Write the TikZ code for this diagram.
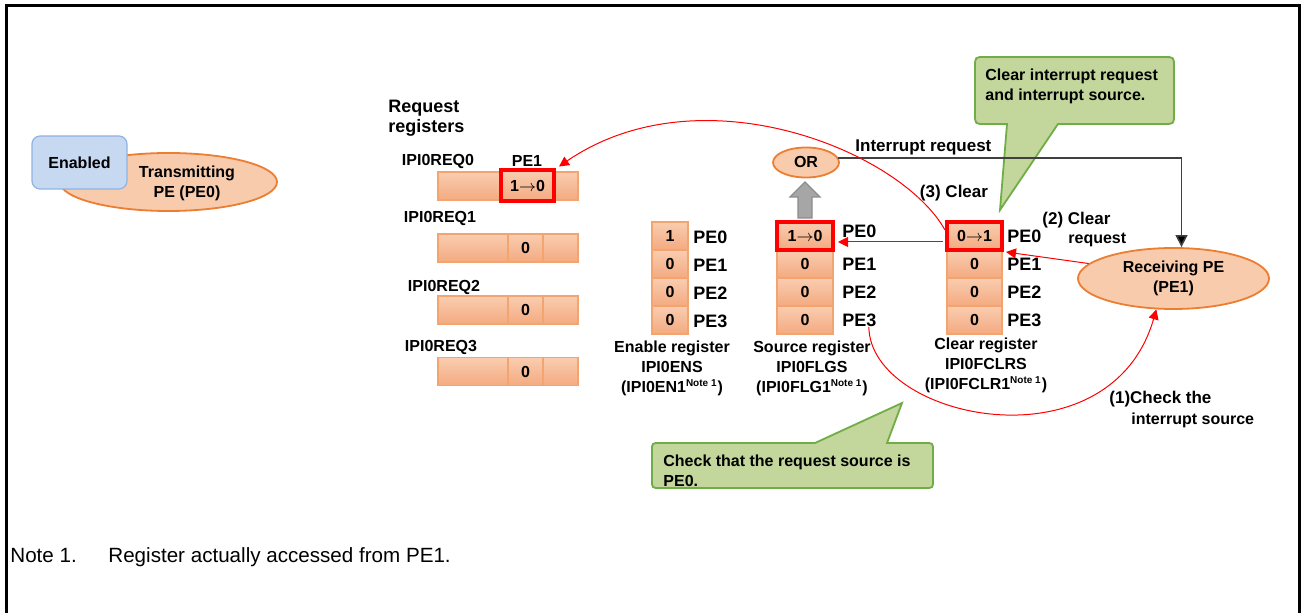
\documentclass[tikz,border=0pt]{standalone}
\usepackage{fontspec}
\setmainfont{Liberation Sans}
\usetikzlibrary{arrows.meta,shapes.geometric,calc}
\definecolor{ipiOrange}{HTML}{ED7D31}
\definecolor{ipiPeach}{HTML}{F8CBAD}
\definecolor{ipiCellTop}{HTML}{F9CDB0}
\definecolor{ipiCellBot}{HTML}{F4AA80}
\definecolor{ipiCellLine}{HTML}{F3A46F}
\definecolor{ipiBlue}{HTML}{C6D9F1}
\definecolor{ipiBlueLine}{HTML}{8EB4E3}
\definecolor{ipiGreen}{HTML}{C3D69B}
\definecolor{ipiGreenLine}{HTML}{70AD47}
\definecolor{ipiGray}{HTML}{A6A6A6}
\definecolor{ipiGrayLine}{HTML}{8C8C8C}
\definecolor{ipiDark}{HTML}{404040}
\tikzset{
  ipi label/.style={font=\bfseries\fontsize{8}{10}\selectfont, inner sep=0pt},
  ipi step/.style={font=\bfseries\fontsize{8.5}{10}\selectfont, inner sep=0pt},
  ipi head/.style={font=\bfseries\fontsize{9}{10}\selectfont, inner sep=0pt},
  ipi pelab/.style={font=\bfseries\fontsize{9}{10}\selectfont, inner sep=0pt},
  ipi note/.style={font=\fontsize{10.3}{12}\selectfont, inner sep=0pt},
  ipi cell/.style={draw=ipiCellLine, top color=ipiCellTop, bottom color=ipiCellBot, line width=0.6pt, inner sep=0pt, minimum height=14pt, ipi label},
  ipi hl/.style={draw=red, line width=2pt},
  ipi pe/.style={ellipse, draw=ipiOrange, fill=ipiPeach, line width=0.9pt, inner sep=0pt, ipi label, align=center},
  ipi flag/.style={draw=ipiBlueLine, fill=ipiBlue, rounded corners=4pt, line width=0.6pt, ipi label},
  ipi callout/.style={draw=ipiGreenLine, fill=ipiGreen, line width=0.9pt},
  ipi red/.style={draw=red, line width=0.5pt, -{Triangle[length=5pt,width=5pt]}},
  ipi irq/.style={draw=ipiDark, line width=0.8pt, -{Triangle[length=6pt,width=6pt,fill=black]}},
}
\begin{document}
\begin{tikzpicture}[x=0.5pt, y=-0.5pt]
  \useasboundingbox (0,0) rectangle (1301,613);
  % frame, open at the bottom
  \draw[line width=1.5pt] (6,613) -- (6,6) -- (1299,6) -- (1299,613);

  % transmitting PE
  \node[ipi pe, minimum width=108.5pt, minimum height=29pt] (tx) at (168.5,182) {};
  \node[ipi label, align=center] (txname) at (187,183) {Transmitting\\PE (PE0)};
  \node[ipi flag, minimum width=47.5pt, minimum height=26.5pt] (enabled) at (79.5,162.5) {Enabled};

  % request registers
  \node[ipi head, anchor=west, align=left] (reqhead) at (388,118) {Request\\registers};
  \foreach \r/\y/\ly/\lx in {0/186/161/438, 1/248/218/440, 2/310/287/444, 3/371.5/347/441} {
    \node[ipi label] (reqname\r) at (\lx,\ly) {IPI0REQ\r};
    \node[ipi cell, minimum width=35pt] (req\r-a) at (473,\y) {};
    \node[ipi cell, minimum width=17.5pt] (req\r-b) at (525.5,\y) {\ifnum\r=0 \else 0\fi};
    \node[ipi cell, minimum width=17.5pt] (req\r-c) at (560.5,\y) {};
  }
  \node[ipi cell, ipi hl, minimum width=26.5pt, minimum height=15.5pt] (req0hl) at (527.5,186) {1$\rightarrow$0};
  \node[ipi label] (reqpe) at (527,161) {PE1};

  % enable register
  \foreach \i/\v in {0/1,1/0,2/0,3/0} {
    \node[ipi cell, minimum width=18pt] (ens\i) at (670,{236+28*\i}) {\v};
    \node[ipi pelab, anchor=west] (ensl\i) at (693,{237+28*\i}) {PE\i};
  }
  \node[ipi label, align=center] (enscap) at (672,368) {Enable register\\IPI0ENS\\(IPI0EN1\textsuperscript{\fontsize{5}{5}\selectfont Note 1})};

  % source register
  \foreach \i in {1,2,3} {
    \node[ipi cell, minimum width=28pt] (flg\i) at (805,{236+28*\i}) {0};
  }
  \node[ipi cell, ipi hl, minimum width=28pt] (flg0) at (805,236) {1$\rightarrow$0};
  \foreach \i/\dy in {0/-5,1/0,2/0,3/0} {
    \node[ipi pelab, anchor=west] (flgl\i) at (842,{236+28*\i+\dy}) {PE\i};
  }
  \node[ipi label, align=center] (flgcap) at (812,368) {Source register\\IPI0FLGS\\(IPI0FLG1\textsuperscript{\fontsize{5}{5}\selectfont Note 1})};

  % clear register
  \foreach \i in {1,2,3} {
    \node[ipi cell, minimum width=27.5pt] (clr\i) at (974.5,{236+28*\i}) {0};
  }
  \node[ipi cell, ipi hl, minimum width=27.5pt] (clr0) at (974.5,236) {0$\rightarrow$1};
  \foreach \i in {0,...,3} {
    \node[ipi pelab, anchor=west] (clrl\i) at (1007,{236+28*\i}) {PE\i};
  }
  \node[ipi label, align=center] (clrcap) at (986,365) {Clear register\\IPI0FCLRS\\(IPI0FCLR1\textsuperscript{\fontsize{5}{5}\selectfont Note 1})};

  % OR gate and receiving PE
  \node[ipi pe, minimum width=33pt, minimum height=15pt] (or) at (806,162.5) {OR};
  \node[ipi pe, minimum width=95.5pt, minimum height=30.5pt] (rcv) at (1173.5,278.5) {Receiving PE\\(PE1)};
  \draw[fill=ipiGray, draw=ipiGrayLine, line width=0.6pt]
    (798,218) -- (798,197) -- (790,197) -- (805,182) -- (820,197) -- (812,197) -- (812,218) -- cycle;

  % callouts
  \draw[ipi callout] (985,57) -- (1164,57) .. controls (1174,57) .. (1174,67) -- (1174,114)
    .. controls (1174,124) .. (1164,124) -- (1058,124) -- (1000,210) -- (1007,124) -- (985,124)
    .. controls (975,124) .. (975,114) -- (975,67) .. controls (975,57) .. (985,57) -- cycle;
  \node[ipi label, anchor=west, align=left] (clrnote) at (985,86.5) {Clear interrupt request\\and interrupt source.};
  \draw[ipi callout] (660,443) -- (815,443) -- (902,403) -- (887,443) -- (925,443)
    .. controls (933,443) .. (933,451) -- (933,480) .. controls (933,488) .. (925,488) -- (660,488)
    .. controls (652,488) .. (652,480) -- (652,451) .. controls (652,443) .. (660,443) -- cycle;
  \node[ipi label, anchor=west, align=left] (chknote) at (663,471) {Check that the request source is\\PE0.};

  % connectors
  \draw[ipi irq] (or.8) -| ($(rcv.north)+(8,0)$);
  \node[ipi step, anchor=west] (irqlab) at (855,147) {Interrupt request};
  \draw[ipi red] ($(clr0.west)+(-2,6)$) -- ($(flg0.east)+(3,6)$);
  \draw[ipi red] (rcv.170) -- ($(clr0.south east)+(2,0)$);
  \draw[ipi red] ([yshift=3pt]clr0.west) .. controls (900,150) and (700,70) .. ($(req0hl.north east)+(3,-2)$);
  \draw[ipi red] ([xshift=-4pt]flgl3.south east) .. controls (870,420) and (1110,470) .. (rcv.241);
  \node[ipi step] (step3) at (954,193) {(3) Clear};
  \node[ipi step, anchor=west] (step2) at (1042,220) {(2) Clear};
  \node[ipi label, anchor=west] (step2b) at (1068,240) {request};
  \node[ipi step, anchor=west] (step1) at (1109,399) {(1)Check the};
  \node[ipi label, anchor=west] (step1b) at (1131,420) {interrupt source};

  % note
  \node[ipi note, anchor=base west] (notetag) at (10,563) {Note 1.};
  \node[ipi note, anchor=base west] (notetext) at (108,563) {Register actually accessed from PE1.};
\end{tikzpicture}
\end{document}
